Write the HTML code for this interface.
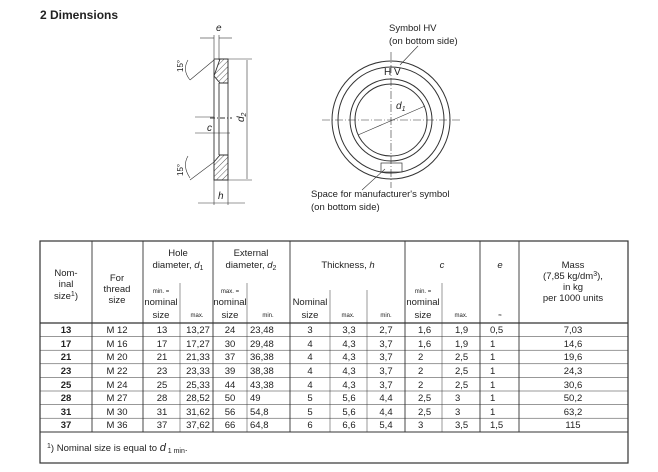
<!DOCTYPE html>
<html><head><meta charset="utf-8"><style>
html,body{margin:0;padding:0;background:#fff;}
svg{display:block;font-family:"Liberation Sans",sans-serif;}
</style></head><body>
<svg width="658" height="472" viewBox="0 0 658 472" xmlns="http://www.w3.org/2000/svg">
<defs>
<pattern id="h" width="4" height="4" patternUnits="userSpaceOnUse" patternTransform="rotate(45)"><line x1="0" y1="0" x2="0" y2="4" stroke="#333" stroke-width="0.8"/></pattern>
</defs>
<text x="40" y="19" font-size="12" font-weight="bold" fill="#222">2  Dimensions</text>

<!-- section view -->
<g stroke="#333" stroke-width="0.9" fill="none">
<path d="M220 59 L228 59 L228 83 L220 83 L214 76 Z" fill="url(#h)"/>
<path d="M220 155 L228 155 L228 180 L214 180 L214 162 Z" fill="url(#h)"/>
<line x1="214" y1="59" x2="214" y2="180"/>
<line x1="214" y1="59" x2="228" y2="59"/>
<line x1="228" y1="59" x2="228" y2="180"/>
<line x1="219" y1="83" x2="219" y2="155"/>
<line x1="219" y1="83" x2="228" y2="83"/>
<line x1="219" y1="155" x2="228" y2="155"/>
<line x1="214" y1="180" x2="228" y2="180"/>
<line x1="210" y1="118" x2="232" y2="118" stroke-dasharray="5,2,1,2"/>
<line x1="214" y1="35" x2="214" y2="59" stroke-width="0.6"/>
<line x1="219" y1="35" x2="219" y2="60" stroke-width="0.6"/>
<line x1="200" y1="38" x2="214" y2="38" stroke-width="0.6"/>
<line x1="219" y1="38" x2="232" y2="38" stroke-width="0.6"/>
<line x1="228" y1="59" x2="252" y2="59" stroke-width="0.6"/>
<line x1="228" y1="180" x2="252" y2="180" stroke-width="0.6"/>
<line x1="247" y1="60" x2="247" y2="179" stroke-width="0.6"/>
<line x1="195" y1="117" x2="214" y2="117" stroke-width="0.6"/>
<line x1="195" y1="133" x2="230" y2="133" stroke-width="0.6"/>
<line x1="214" y1="180" x2="214" y2="205" stroke-width="0.6"/>
<line x1="228" y1="180" x2="228" y2="205" stroke-width="0.6"/>
<line x1="198" y1="203" x2="245" y2="203" stroke-width="0.6"/>
<line x1="214" y1="60" x2="190" y2="80" stroke-width="0.6"/>
<line x1="214" y1="162" x2="190" y2="180" stroke-width="0.6"/>
<path d="M188 60 Q182 70 190 80" stroke-width="0.6"/>
<path d="M188 156 Q182 166 190 178" stroke-width="0.6"/>
</g>
<text x="216" y="31" font-size="10" font-style="italic" fill="#222">e</text>
<text x="207" y="131" font-size="10" font-style="italic" fill="#222">c</text>
<text x="218" y="199" font-size="10" font-style="italic" fill="#222">h</text>
<text x="244" y="122" font-size="10" font-style="italic" fill="#222" transform="rotate(-90 244 122)">d<tspan font-size="7" dy="2">2</tspan></text>
<text x="183" y="72" font-size="8" fill="#222" transform="rotate(-90 183 72)">15°</text>
<text x="183" y="176" font-size="8" fill="#222" transform="rotate(-90 183 176)">15°</text>

<!-- plan view -->
<g stroke="#333" stroke-width="1" fill="none">
<circle cx="391" cy="120" r="59"/>
<circle cx="391" cy="120" r="53"/>
<circle cx="391" cy="120" r="41"/>
<circle cx="391" cy="120" r="36"/>
<line x1="322" y1="120" x2="462" y2="120" stroke-width="0.6" stroke-dasharray="8,2,1,2"/>
<line x1="391" y1="52" x2="391" y2="188" stroke-width="0.6" stroke-dasharray="8,2,1,2"/>
<line x1="358" y1="135" x2="425" y2="106" stroke-width="0.6"/>
<rect x="381" y="163" width="21" height="9" stroke-width="0.7"/>
<line x1="400" y1="65" x2="418" y2="46" stroke-width="0.6"/>
<line x1="385" y1="169" x2="362" y2="190" stroke-width="0.6"/>
</g>
<text x="384" y="75" font-size="10" fill="#222">H V</text>
<text x="396" y="109" font-size="10" font-style="italic" fill="#222">d<tspan font-size="7" dy="2">1</tspan></text>
<text x="389" y="31" font-size="9.5" fill="#222">Symbol HV</text>
<text x="389" y="44" font-size="9.5" fill="#222">(on bottom side)</text>
<text x="311" y="197" font-size="9.5" fill="#222">Space for manufacturer's symbol</text>
<text x="311" y="210" font-size="9.5" fill="#222">(on bottom side)</text>

<!-- table -->
<g stroke="#333" fill="none">
<rect x="40" y="241" width="588" height="222" stroke-width="1.2"/>
<g stroke-width="0.9">
<line x1="92" y1="241" x2="92" y2="432"/><line x1="143" y1="241" x2="143" y2="432"/>
<line x1="213" y1="241" x2="213" y2="432"/><line x1="290" y1="241" x2="290" y2="432"/>
<line x1="405" y1="241" x2="405" y2="432"/><line x1="480" y1="241" x2="480" y2="432"/>
<line x1="519" y1="241" x2="519" y2="432"/>
</g>
<g stroke-width="0.5">
<line x1="180" y1="283" x2="180" y2="432"/><line x1="247" y1="283" x2="247" y2="432"/>
<line x1="330" y1="290" x2="330" y2="432"/><line x1="367" y1="290" x2="367" y2="432"/>
<line x1="442" y1="283" x2="442" y2="432"/>
</g>
<line x1="40" y1="323" x2="628" y2="323" stroke-width="1.2"/>
<g stroke-width="0.5">
<line x1="40" y1="336.6" x2="628" y2="336.6"/><line x1="40" y1="350.2" x2="628" y2="350.2"/>
<line x1="40" y1="363.8" x2="628" y2="363.8"/><line x1="40" y1="377.4" x2="628" y2="377.4"/>
<line x1="40" y1="391" x2="628" y2="391"/><line x1="40" y1="404.6" x2="628" y2="404.6"/>
<line x1="40" y1="418.2" x2="628" y2="418.2"/>
</g>
<line x1="40" y1="432" x2="628" y2="432" stroke-width="0.9"/>
</g>
<g font-size="9.5" fill="#222" text-anchor="middle">
<text x="66" y="276">Nom-</text><text x="66" y="287">inal</text><text x="66" y="299">size<tspan font-size="7" dy="-3">1</tspan><tspan dy="3">)</tspan></text>
<text x="117" y="281">For</text><text x="117" y="292">thread</text><text x="117" y="303">size</text>
<text x="178" y="256">Hole</text><text x="178" y="268">diameter, <tspan font-style="italic">d</tspan><tspan font-size="7" dy="2">1</tspan></text>
<text x="251" y="256">External</text><text x="251" y="268">diameter, <tspan font-style="italic">d</tspan><tspan font-size="7" dy="2">2</tspan></text>
<text x="348" y="268">Thickness, <tspan font-style="italic">h</tspan></text>
<text x="442" y="268" font-style="italic">c</text>
<text x="500" y="268" font-style="italic">e</text>
<text x="573" y="268">Mass</text><text x="573" y="279">(7,85 kg/dm<tspan font-size="7" dy="-3">3</tspan><tspan dy="3">),</tspan></text>
<text x="573" y="290">in kg</text><text x="573" y="301">per 1000 units</text>
<g font-size="6"><text x="161" y="293">min. =</text><text x="230" y="293">max. =</text><text x="423" y="293">min. =</text>
<text x="197" y="317">max.</text><text x="268" y="317">min.</text><text x="348" y="317">max.</text><text x="386" y="317">min.</text><text x="461" y="317">max.</text><text x="500" y="317">≈</text></g>
<text x="161" y="305">nominal</text><text x="161" y="318">size</text>
<text x="230" y="305">nominal</text><text x="230" y="318">size</text>
<text x="423" y="305">nominal</text><text x="423" y="318">size</text>
<text x="310" y="305">Nominal</text><text x="310" y="318">size</text>
</g>
<g font-size="9.5" fill="#222" text-anchor="middle">
<g font-weight="bold"><text x="66" y="333">13</text><text x="66" y="347">17</text><text x="66" y="360">21</text><text x="66" y="374">23</text><text x="66" y="388">25</text><text x="66" y="401">28</text><text x="66" y="415">31</text><text x="66" y="428">37</text></g>
<text x="117" y="333">M 12</text><text x="117" y="347">M 16</text><text x="117" y="360">M 20</text><text x="117" y="374">M 22</text><text x="117" y="388">M 24</text><text x="117" y="401">M 27</text><text x="117" y="415">M 30</text><text x="117" y="428">M 36</text>
<text x="162" y="333">13</text><text x="162" y="347">17</text><text x="162" y="360">21</text><text x="162" y="374">23</text><text x="162" y="388">25</text><text x="162" y="401">28</text><text x="162" y="415">31</text><text x="162" y="428">37</text>
<text x="198" y="333">13,27</text><text x="198" y="347">17,27</text><text x="198" y="360">21,33</text><text x="198" y="374">23,33</text><text x="198" y="388">25,33</text><text x="198" y="401">28,52</text><text x="198" y="415">31,62</text><text x="198" y="428">37,62</text>
<text x="230" y="333">24</text><text x="230" y="347">30</text><text x="230" y="360">37</text><text x="230" y="374">39</text><text x="230" y="388">44</text><text x="230" y="401">50</text><text x="230" y="415">56</text><text x="230" y="428">66</text>
<g text-anchor="start"><text x="250" y="333">23,48</text><text x="250" y="347">29,48</text><text x="250" y="360">36,38</text><text x="250" y="374">38,38</text><text x="250" y="388">43,38</text><text x="250" y="401">49</text><text x="250" y="415">54,8</text><text x="250" y="428">64,8</text></g>
<text x="310" y="333">3</text><text x="310" y="347">4</text><text x="310" y="360">4</text><text x="310" y="374">4</text><text x="310" y="388">4</text><text x="310" y="401">5</text><text x="310" y="415">5</text><text x="310" y="428">6</text>
<text x="349" y="333">3,3</text><text x="349" y="347">4,3</text><text x="349" y="360">4,3</text><text x="349" y="374">4,3</text><text x="349" y="388">4,3</text><text x="349" y="401">5,6</text><text x="349" y="415">5,6</text><text x="349" y="428">6,6</text>
<text x="386" y="333">2,7</text><text x="386" y="347">3,7</text><text x="386" y="360">3,7</text><text x="386" y="374">3,7</text><text x="386" y="388">3,7</text><text x="386" y="401">4,4</text><text x="386" y="415">4,4</text><text x="386" y="428">5,4</text>
<g text-anchor="start"><text x="418" y="333">1,6</text><text x="418" y="347">1,6</text><text x="418" y="360">2</text><text x="418" y="374">2</text><text x="418" y="388">2</text><text x="418" y="401">2,5</text><text x="418" y="415">2,5</text><text x="418" y="428">3</text>
<text x="455" y="333">1,9</text><text x="455" y="347">1,9</text><text x="455" y="360">2,5</text><text x="455" y="374">2,5</text><text x="455" y="388">2,5</text><text x="455" y="401">3</text><text x="455" y="415">3</text><text x="455" y="428">3,5</text>
<text x="490" y="333">0,5</text><text x="490" y="347">1</text><text x="490" y="360">1</text><text x="490" y="374">1</text><text x="490" y="388">1</text><text x="490" y="401">1</text><text x="490" y="415">1</text><text x="490" y="428">1,5</text></g>
<text x="573" y="333">7,03</text><text x="573" y="347">14,6</text><text x="573" y="360">19,6</text><text x="573" y="374">24,3</text><text x="573" y="388">30,6</text><text x="573" y="401">50,2</text><text x="573" y="415">63,2</text><text x="573" y="428">115</text>
</g>
<text x="47" y="451" font-size="9.5" fill="#222"><tspan font-size="7" dy="-3">1</tspan><tspan dy="3">)  Nominal size is equal to </tspan><tspan font-style="italic" font-size="11">d</tspan><tspan font-size="7" dy="2"> 1 min</tspan><tspan dy="-2">.</tspan></text>
</svg>
</body></html>
